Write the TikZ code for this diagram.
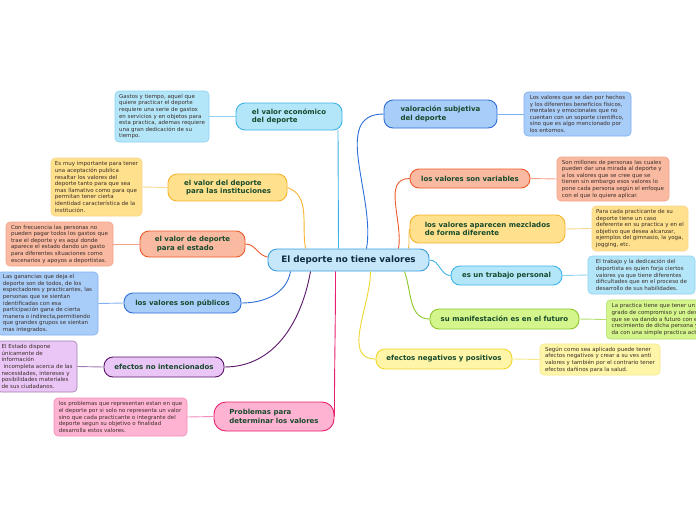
\documentclass[tikz,border=0pt]{standalone}
\usepackage{fontspec}
\setmainfont{DejaVu Sans}
\newfontfamily\boldsans{DejaVu Sans Bold}
\definecolor{cyanF}{HTML}{B4E6FA}\definecolor{cyanB}{HTML}{3CB4E6}\definecolor{cyanL}{HTML}{8ED2F0}
\definecolor{orangeF}{HTML}{FFE08C}\definecolor{orangeB}{HTML}{F5B42D}\definecolor{orangeL}{HTML}{F8D890}
\definecolor{redF}{HTML}{FABAA2}\definecolor{redB}{HTML}{F05A28}\definecolor{redL}{HTML}{F4A28A}
\definecolor{blueF}{HTML}{A9CDF9}\definecolor{blueB}{HTML}{2F6FD8}\definecolor{blueL}{HTML}{80B0F2}
\definecolor{purpleF}{HTML}{EAC6F6}\definecolor{purpleB}{HTML}{5A1468}\definecolor{purpleL}{HTML}{A07CB4}
\definecolor{pinkF}{HTML}{FFB3D2}\definecolor{pinkB}{HTML}{E8206E}\definecolor{pinkL}{HTML}{F28CBA}
\definecolor{greenF}{HTML}{D4F58C}\definecolor{greenB}{HTML}{8CC828}\definecolor{greenL}{HTML}{B4DE70}
\definecolor{yellowF}{HTML}{FFF5A8}\definecolor{yellowB}{HTML}{F0D62E}\definecolor{yellowL}{HTML}{F6E88A}
\definecolor{centerF}{HTML}{C6E6FA}\definecolor{centerB}{HTML}{3AA0E0}
\definecolor{topictext}{HTML}{164A2C}
\definecolor{leaftext}{HTML}{3A2E28}
\definecolor{centertext}{HTML}{0F2D3C}
\tikzset{
  topic/.style={draw, rounded corners=9pt, line width=0.9pt, font=\boldsans\fontsize{7}{8.6}\selectfont, text=topictext, align=left, inner sep=2pt},
  leaf/.style={draw, rounded corners=4pt, line width=0.6pt, font=\fontsize{5.5}{6.6}\selectfont, text=leaftext, align=left, inner sep=2pt},
  link/.style={line width=0.9pt},
  leaflink/.style={line width=0.9pt},
}
\begin{document}
\begin{tikzpicture}[x=1pt,y=-1pt]
\useasboundingbox (0,0) rectangle (696,520);
\clip (0,0) rectangle (696,520);
\fill[white] (0,0) rectangle (696,520);
% central
\node[draw=centerB, fill=centerF, rounded corners=9pt, line width=0.9pt, minimum width=161pt, minimum height=22pt, font=\boldsans\fontsize{8.8}{10}\selectfont, text=centertext] (c) at (348.5,260) {El deporte no tiene valores};
% left topics
\node[topic, draw=cyanB, fill=cyanF, minimum width=106pt, minimum height=27pt] (e1) at (289,116.5) {el valor económico\\del deporte};
\node[topic, draw=orangeB, fill=orangeF, minimum width=119pt, minimum height=27pt] (i1) at (227.5,187.5) {el valor del deporte\\\hspace*{2pt}para las instituciones};
\node[topic, draw=redB, fill=redF, minimum width=105pt, minimum height=26pt] (s1) at (192.5,244) {el valor de deporte\\\hspace*{2pt}para el estado};
\node[topic, draw=blueB, fill=blueF, minimum width=117pt, minimum height=20pt] (p1) at (182.5,303) {los valores son públicos};
\node[topic, draw=purpleB, fill=purpleF, minimum width=120pt, minimum height=20pt] (n1) at (164,367) {efectos no intencionados};
\node[topic, draw=pinkB, fill=pinkF, minimum width=120pt, minimum height=29pt, rounded corners=12pt] (pr) at (274,416.5) {Problemas para\\determinar los valores};
% right topics
\node[topic, draw=blueB, fill=blueF, minimum width=113pt, minimum height=28pt] (v1) at (440.5,114) {valoración subjetiva\\del deporte};
\node[topic, draw=redB, fill=redF, minimum width=120pt, minimum height=19pt] (va) at (470,178.5) {los valores son variables};
\node[topic, draw=orangeB, fill=orangeF, minimum width=155pt, minimum height=28pt] (m) at (487.5,229) {los valores aparecen mezclados\\de forma diferente};
\node[topic, draw=cyanB, fill=cyanF, minimum width=111pt, minimum height=19pt] (t) at (506.5,275.5) {es un trabajo personal};
\node[topic, draw=greenB, fill=greenF, minimum width=149pt, minimum height=20pt] (f) at (504.5,319) {su manifestación es en el futuro};
\node[topic, draw=yellowB, fill=yellowF, minimum width=136pt, minimum height=20pt] (en) at (444,359) {efectos negativos y positivos};
% leaves
\node[leaf, draw=cyanL, fill=cyanF, minimum width=94pt, minimum height=51pt] (L1) at (162,116.5) {Gastos y tiempo, aquel que\\quiere practicar el deporte\\requiere una serie de gastos\\en servicios y en objetos para\\esta practica, ademas requiere\\una gran dedicación de su\\tiempo.};
\node[leaf, draw=orangeL, fill=orangeF, minimum width=91pt, minimum height=58pt] (L2) at (96.5,187) {Es muy importante para tener\\una aceptación publica\\resaltar los valores del\\deporte tanto para que sea\\mas llamativo como para que\\permitan tener cierta\\identidad característica de la\\institución.};
\node[leaf, draw=redL, fill=redF, minimum width=107pt, minimum height=44pt] (L3) at (59.5,244) {Con frecuencia las personas no\\pueden pagar todos los gastos que\\trae el deporte y es aquí donde\\aparece el estado dando un gasto\\para diferentes situaciones como\\escenarios y apoyos a deportistas.};
\node[leaf, draw=blueL, fill=blueF, minimum width=101pt, minimum height=63pt] (L4) at (47.5,303.5) {Las ganancias que deja el\\deporte son de todos, de los\\espectadores y practicantes, las\\personas que se sientan\\identificadas con esa\\participación gana de cierta\\manera o indirecta,permitiendo\\que grandes grupos se sientan\\mas integrados.};
\node[leaf, draw=purpleL, fill=purpleF, minimum width=80pt, minimum height=51pt] (L5) at (37,366.5) {El Estado dispone\\únicamente de\\información\\\hspace*{2pt}incompleta acerca de las\\necesidades, intereses y\\posibilidades materiales\\de sus ciudadanos.};
\node[leaf, draw=pinkL, fill=pinkF, minimum width=133pt, minimum height=38pt] (L6) at (120.5,417) {los problemas que representan estan en que\\el deporte por si solo no representa un valor\\sino que cada practicante o integrante del\\deporte segun su objetivo o finalidad\\desarrolla estos valores.};
\node[leaf, draw=blueL, fill=blueF, minimum width=107pt, minimum height=44pt] (R7) at (577.5,114) {Los valores que se dan por hechos\\y los diferentes beneficios físicos,\\mentales y emocionales que no\\cuentan con un soporte científico,\\sino que es algo mencionado por\\los entornos.};
\node[leaf, draw=redL, fill=redF, minimum width=112pt, minimum height=44pt] (R8) at (613,179) {Son millones de personas las cuales\\pueden dar una mirada al deporte y\\a los valores que se cree que se\\tienen sin embargo esos valores lo\\pone cada persona según el enfoque\\con el que lo quiere aplicar.};
\node[leaf, draw=orangeL, fill=orangeF, minimum width=96pt, minimum height=45pt] (R9) at (640,228.5) {Para cada practicante de su\\deporte tiene un caso\\deferente en su practica y en el\\objetivo que desea alcanzar,\\ejemplos del gimnasio, la yoga,\\jogging, etc.};
\node[leaf, draw=cyanL, fill=cyanF, minimum width=107pt, minimum height=38pt] (R10) at (641.5,275) {El trabajo y la dedicación del\\deportista es quien forja ciertos\\valores ya que tiene diferentes\\dificultades que en el proceso de\\desarrollo de sus habilidades.};
\node[leaf, draw=greenL, fill=greenF, minimum width=114pt, minimum height=39pt, anchor=west] (R11) at (606,319.5) {La practica tiene que tener un cierto\\grado de compromiso y un deseo\\que se va dando a futuro con el\\crecimiento de dicha persona y no se\\da con una simple practica actual.};
\node[leaf, draw=yellowL, fill=yellowF, minimum width=120pt, minimum height=31pt] (R12) at (600,359.5) {Según como sea aplicado puede tener\\afectos negativos y crear a su ves anti\\valores y también por el contrario tener\\efectos dañinos para la salud.};
% main connectors
\draw[link,cyanB] ([xshift=-10pt]c.north) -- ([xshift=49pt]e1.south);
\draw[link,orangeB] (i1.east) to[out=-20,in=100] ([xshift=-43pt]c.north);
\draw[link,redB] (s1.east) to[out=0,in=170] ([yshift=3pt]c.west);
\draw[link,blueB] (p1.east) to[out=0,in=-100] ([xshift=-58pt]c.south);
\draw[link,purpleB] (n1.east) to[out=0,in=-100] ([xshift=-38pt]c.south);
\draw[link,pinkB] (pr.east) to[out=90,in=-90] ([xshift=-13pt]c.south);
\draw[link,blueB] (v1.west) to[out=180,in=80] ([xshift=18pt]c.north);
\draw[link,redB] (va.west) to[out=180,in=80] ([xshift=50pt]c.north);
\draw[link,orangeB] (m.west) to[out=-100,in=80] ([xshift=60pt]c.north);
\draw[link,cyanB] (c.east) to[out=0,in=180] (t.west);
\draw[link,greenB] (f.west) to[out=180,in=-70] ([xshift=56pt]c.south);
\draw[link,yellowB] (en.west) to[out=180,in=-90] ([xshift=22pt]c.south);
% leaf connectors
\draw[leaflink,cyanL] (e1.west) -- (L1.east);
\draw[leaflink,orangeL] (i1.west) -- (L2.east);
\draw[leaflink,redL] (s1.west) -- (L3.east);
\draw[leaflink,blueL] (p1.west) -- (L4.east);
\draw[leaflink,purpleL] (n1.west) -- (L5.east);
\draw[leaflink,pinkL] (pr.west) -- (L6.east);
\draw[leaflink,blueL] (v1.east) -- (R7.west);
\draw[leaflink,redL] (va.east) -- (R8.west);
\draw[leaflink,orangeL] (m.east) -- (R9.west);
\draw[leaflink,cyanL] (t.east) -- (R10.west);
\draw[leaflink,greenL] (f.east) -- (R11.west);
\draw[leaflink,yellowL] (en.east) -- (R12.west);
\end{tikzpicture}
\end{document}
